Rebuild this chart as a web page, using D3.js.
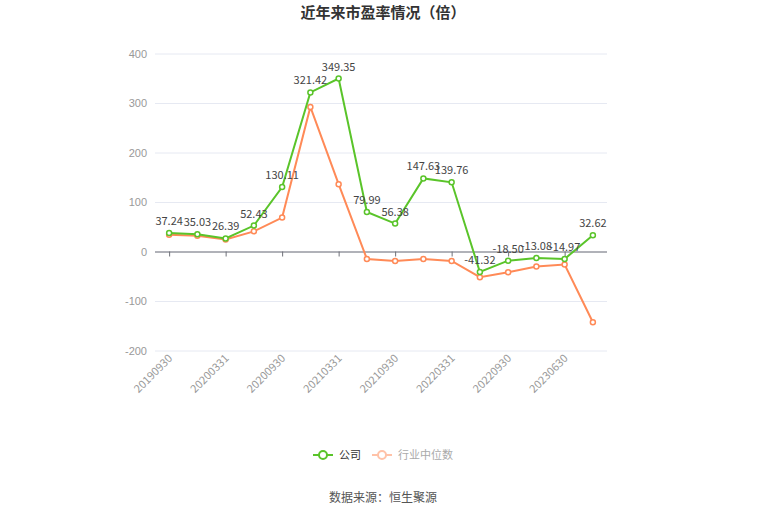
<!DOCTYPE html>
<html>
<head>
<meta charset="utf-8">
<script src="https://cdn.jsdelivr.net/npm/d3@7"></script>
<style>
  body { margin: 0; background: #fff; }
  svg { font-family: "Noto Sans CJK SC", "Noto Sans", sans-serif; }
</style>
</head>
<body>
<div id="chart"></div>
<script>
// dados
const categorias = ['20190930','20191231','20200331','20200630','20200930','20201231',
  '20210331','20210630','20210930','20211231','20220331','20220630',
  '20220930','20221231','20230630','20230930'];
const empresa = [37.24, 35.03, 26.39, 52.43, 130.11, 321.42, 349.35, 79.99,
  56.38, 147.63, 139.76, -41.32, -18.50, -13.08, -14.97, 32.62];
const mediana = [34, 32, 24.4, 40.7, 68.5, 292, 136, -15,
  -19, -15, -19, -52, -42, -30.5, -26.4, -143];
const yTicks = [-200, -100, 0, 100, 200, 300, 400];
const series = [
  { name: '公司', values: empresa, cor: '#5ac42a', rotulos: true },
  { name: '行业中位数', values: mediana, cor: '#ff8a57', rotulos: false }
];

const width = 765, height = 517;
const svg = d3.select('#chart').append('svg')
  .attr('width', width).attr('height', height);

const x = d3.scaleBand().domain(categorias).range([155, 607]);
const cx = c => x(c) + x.bandwidth() / 2;
const y = d3.scaleLinear().domain([-200, 400]).range([350.5, 53.5]);

// titulo
svg.append('text')
  .attr('x', 383).attr('y', 18)
  .attr('text-anchor', 'middle')
  .attr('font-size', 15).attr('font-weight', 'bold')
  .attr('fill', '#333')
  .text('近年来市盈率情况（倍）');

// grade + eixo y
const yAxis = svg.append('g')
  .attr('transform', 'translate(155,0)')
  .call(d3.axisLeft(y).tickValues(yTicks).tickSize(-452).tickPadding(8)
    .tickFormat(d => String(d)));
yAxis.select('.domain').remove();
yAxis.selectAll('.tick line').attr('stroke', '#e6e9f2');
yAxis.selectAll('.tick text').attr('fill', '#999').attr('font-size', 11);

// eixo x na linha do zero
const xAxis = svg.append('g')
  .attr('transform', `translate(0,${y(0)})`)
  .call(d3.axisBottom(d3.scalePoint().domain(categorias).range([cx(categorias[0]), cx(categorias[15])]))
    .tickValues(categorias.filter((d, i) => i % 2 === 0)).tickSize(5).tickFormat(''));
xAxis.select('.domain').attr('d', 'M155,0.5H607').attr('stroke', '#6e7079');
xAxis.selectAll('.tick line').attr('stroke', '#6e7079');

// rotulos do eixo x
svg.append('g').selectAll('text')
  .data(categorias.filter((d, i) => i % 2 === 0))
  .join('text')
  .attr('transform', d => `translate(${cx(d) + 4},${359}) rotate(-45)`)
  .attr('text-anchor', 'end')
  .attr('font-size', 11).attr('fill', '#999')
  .text(d => d);

const line = d3.line().x((d, i) => cx(categorias[i])).y(d => y(d));

// desenha mediana primeiro, empresa por cima
[series[1], series[0]].forEach(s => {
  const g = svg.append('g');
  g.append('path')
    .datum(s.values)
    .attr('d', line)
    .attr('fill', 'none')
    .attr('stroke', s.cor)
    .attr('stroke-width', 2);
  g.selectAll('circle')
    .data(s.values)
    .join('circle')
    .attr('cx', (d, i) => cx(categorias[i]))
    .attr('cy', d => y(d))
    .attr('r', 2.5)
    .attr('fill', '#fff')
    .attr('stroke', s.cor)
    .attr('stroke-width', 1.5);
  if (s.rotulos) {
    g.selectAll('text')
      .data(s.values)
      .join('text')
      .attr('x', (d, i) => cx(categorias[i]))
      .attr('y', d => y(d) - 8)
      .attr('text-anchor', 'middle')
      .attr('font-size', 11)
      .attr('fill', '#444')
      .text(d => d.toFixed(2));
  }
});

// legenda
const leg = svg.append('g').attr('transform', 'translate(0,455)');
const itens = [
  { s: series[0], x: 313, cor: series[0].cor, txt: '#333' },
  { s: series[1], x: 372, cor: '#ffc2a8', txt: '#aaa' }
];
itens.forEach(it => {
  leg.append('line').attr('x1', it.x).attr('x2', it.x + 20)
    .attr('stroke', it.cor).attr('stroke-width', 2);
  leg.append('circle').attr('cx', it.x + 10).attr('r', 4)
    .attr('fill', '#fff').attr('stroke', it.cor).attr('stroke-width', 2);
  leg.append('text').attr('x', it.x + 26).attr('y', 4)
    .attr('font-size', 11).attr('fill', it.txt).text(it.s.name);
});

// fonte
svg.append('text')
  .attr('x', 383).attr('y', 502)
  .attr('text-anchor', 'middle')
  .attr('font-size', 12).attr('fill', '#555')
  .text('数据来源：恒生聚源');
</script>
</body>
</html>
